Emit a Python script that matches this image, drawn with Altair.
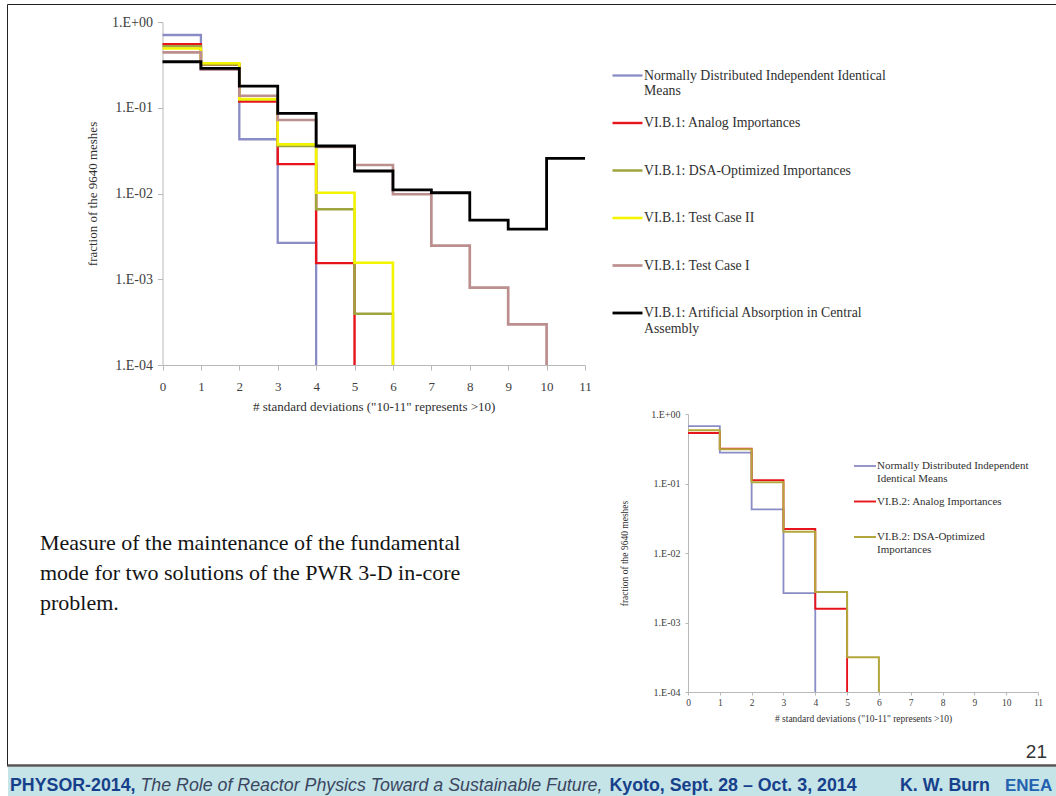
import altair as alt
import pandas as pd

W, H = 1056, 796
SERIF = "Liberation Serif"
SANS = "Liberation Sans"
FLOOR = 1e-4  # bottom of the log axis; bins with zero count drop to it

bin_ticks = list(range(12))
decade_ticks = [1e-4, 1e-3, 1e-2, 1e-1, 1.0]

# ---------------- main chart (VI.B.1) ----------------
main_names = [
    "Normally Distributed Independent Identical|Means",
    "VI.B.1: Analog Importances",
    "VI.B.1: DSA-Optimized Importances",
    "VI.B.1: Test Case II",
    "VI.B.1: Test Case I",
    "VI.B.1: Artificial Absorption in Central|Assembly",
]
main_colors = ["#8a8cc6", "#e8141c", "#9ea43e", "#f4f400", "#bc8e8e", "#000000"]
main_widths = [2.3, 2.8, 2.5, 2.8, 2.5, 3.2]

main_normal = [0.705, 0.28, 0.0429, 0.00265, 0]
main_analog = [0.55, 0.32, 0.118, 0.022, 0.00154, 0]
main_dsa = [0.52, 0.32, 0.125, 0.0358, 0.00653, 0.000397, 0]
main_tc2 = [0.49, 0.33, 0.126, 0.0374, 0.0102, 0.00156, 0]
main_tc1 = [0.443, 0.28, 0.138, 0.072, 0.035, 0.0215, 0.0098, 0.00247, 0.0008, 0.000297, 0]
main_absorb = [0.344, 0.288, 0.179, 0.086, 0.0358, 0.0183, 0.011, 0.0102, 0.0049, 0.00385, 0.0257]
main_values = [main_normal, main_analog, main_dsa, main_tc2, main_tc1, main_absorb]

# ---------------- small chart (VI.B.2) ----------------
small_names = [
    "Normally Distributed Independent|Identical Means",
    "VI.B.2: Analog Importances",
    "VI.B.2: DSA-Optimized|Importances",
]
small_colors = ["#8a8cc6", "#e8141c", "#b3a63c"]
small_widths = [1.8, 2.0, 1.8]

small_normal = [0.667, 0.279, 0.0425, 0.00265, 0]
small_analog = [0.534, 0.318, 0.112, 0.0222, 0.00158, 0]
small_dsa = [0.583, 0.31, 0.104, 0.0203, 0.00274, 0.000316, 0]
small_values = [small_normal, small_analog, small_dsa]

main_xtitle = '# standard deviations ("10-11" represents >10)'
ytitle = "fraction of the 9640 meshes"

para_lines = [
    "Measure of the maintenance  of the fundamental",
    "mode for two solutions of the PWR 3-D in-core",
    "problem.",
]
page_number = "21"
foot_1 = "PHYSOR-2014,"
foot_2 = "The Role of Reactor Physics Toward a Sustainable Future,"
foot_3 = "Kyoto, Sept. 28 \u2013 Oct. 3, 2014"
foot_4 = "K. W. Burn"
foot_logo = "ENEA"


def build(names, values):
    rows = []
    for name, vals in zip(names, values):
        for i, v in enumerate(vals):
            rows.append({"series": name, "bin": i, "frac": v if v > 0 else FLOOR})
        if vals[-1] > 0:
            rows.append({"series": name, "bin": len(vals), "frac": vals[-1]})
    return pd.DataFrame(rows)


main_df = build(main_names, main_values)
small_df = build(small_names, small_values)

ylab = ("'1.E' + (log(datum.value) / LN10 < -0.5 ? '-' : '+') + "
        "format(abs(round(log(datum.value) / LN10)), '02d')")
legend_lab = ("indexof(datum.label, '|') >= 0 ? split(datum.label, '|') : [datum.label, ' ']")


def step_chart(df, names, colors, widths, xr, yr, fs, yfs, tick, lpad_x, lpad_y, tpad_x, tpad_y,
               leg_x, leg_y, leg_fs, sym_len, row_pad, sw):
    return alt.Chart(df).mark_line(interpolate="step-after").encode(
        x=alt.X(
            "bin:Q",
            scale=alt.Scale(domain=[0, 11], range=xr, nice=False, zero=False),
            axis=alt.Axis(
                orient="bottom", offset=-(H - yr[0]), values=bin_ticks, format="d",
                title=main_xtitle, grid=False, labelFont=SERIF, labelFontSize=fs,
                labelColor="#404040", labelPadding=lpad_x, tickSize=tick,
                domainColor="#b8b8b8", tickColor="#b8b8b8", labelFlush=False,
                titleFont=SERIF, titleFontSize=fs, titleFontWeight="normal",
                titleColor="#303030", titlePadding=tpad_x,
            ),
        ),
        y=alt.Y(
            "frac:Q",
            scale=alt.Scale(type="log", domain=[FLOOR, 1], range=yr, nice=False),
            axis=alt.Axis(
                orient="left", offset=-xr[0], values=decade_ticks, labelExpr=ylab,
                title=ytitle, grid=False, labelFont=SERIF, labelFontSize=yfs,
                labelColor="#404040", labelPadding=lpad_y, tickSize=tick,
                domainColor="#b8b8b8", tickColor="#b8b8b8", labelFlush=False,
                titleFont=SERIF, titleFontSize=fs, titleFontWeight="normal",
                titleColor="#303030", titlePadding=tpad_y,
            ),
        ),
        color=alt.Color(
            "series:N",
            sort=names,
            scale=alt.Scale(domain=names, range=colors),
            legend=alt.Legend(
                orient="none", legendX=leg_x, legendY=leg_y, title=None,
                symbolType="stroke", symbolSize=sym_len * sym_len, symbolStrokeWidth=sw,
                labelFont=SERIF, labelFontSize=leg_fs, labelColor="#303030",
                labelLimit=400, labelOffset=0, rowPadding=row_pad, padding=0,
                labelExpr=legend_lab, labelBaseline="middle",
            ),
        ),
        strokeWidth=alt.StrokeWidth(
            "series:N", scale=alt.Scale(domain=names, range=widths), legend=None
        ),
    )


main_chart = step_chart(main_df, main_names, main_colors, main_widths,
                        [162.5, 585], [365, 22], 13, 14, 5, 10, 5, 7, 12,
                        611, 59, 13.8, 30, 7.5, 2.6)
small_chart = step_chart(small_df, small_names, small_colors, small_widths,
                         [688, 1038], [692, 414], 9.5, 10, 3, 2, 5, 7, 21,
                         853, 454, 11, 22, 5.5, 2.2)

one = pd.DataFrame({"k": [0]})

band = alt.Chart(one).mark_rect(color="#c4e4e8").encode(
    x=alt.value(8), x2=alt.value(W), y=alt.value(767), y2=alt.value(H)
)
divider = alt.Chart(one).mark_rule(color="#555555", strokeWidth=2.5).encode(
    x=alt.value(7), x2=alt.value(W), y=alt.value(765.5)
)
border_left = alt.Chart(one).mark_rule(color="#222222", strokeWidth=1).encode(
    x=alt.value(7.5), y=alt.value(4.5), y2=alt.value(765)
)
border_top = alt.Chart(one).mark_rule(color="#222222", strokeWidth=1).encode(
    x=alt.value(7.5), x2=alt.value(W), y=alt.value(4.5)
)

para = alt.Chart(one).mark_text(
    align="left", baseline="alphabetic", font=SERIF, fontSize=22, lineHeight=30, color="#141414"
).encode(x=alt.value(40), y=alt.value(550), text=alt.value(para_lines))

page = alt.Chart(one).mark_text(
    align="right", baseline="alphabetic", font=SANS, fontSize=19, color="#333333"
).encode(x=alt.value(1047), y=alt.value(758), text=alt.value(page_number))

FOOT_Y = 790.5
FOOT_FS = 17.8
NAVY = "#17408b"
f1 = alt.Chart(one).mark_text(align="left", baseline="alphabetic", font=SANS, fontSize=FOOT_FS,
                              fontWeight="bold", color=NAVY).encode(
    x=alt.value(10), y=alt.value(FOOT_Y), text=alt.value(foot_1))
f2 = alt.Chart(one).mark_text(align="left", baseline="alphabetic", font=SANS, fontSize=FOOT_FS,
                              fontStyle="italic", color="#3b4660").encode(
    x=alt.value(140.5), y=alt.value(FOOT_Y), text=alt.value(foot_2))
f3 = alt.Chart(one).mark_text(align="left", baseline="alphabetic", font=SANS, fontSize=FOOT_FS,
                              fontWeight="bold", color=NAVY).encode(
    x=alt.value(609.5), y=alt.value(FOOT_Y), text=alt.value(foot_3))
f4 = alt.Chart(one).mark_text(align="left", baseline="alphabetic", font=SANS, fontSize=FOOT_FS,
                              fontWeight="bold", color=NAVY).encode(
    x=alt.value(900), y=alt.value(FOOT_Y), text=alt.value(foot_4))
logo = alt.Chart(one).mark_text(align="left", baseline="alphabetic", font=SANS, fontSize=17,
                                fontWeight="bold", color="#2462b0").encode(
    x=alt.value(1005), y=alt.value(FOOT_Y), text=alt.value(foot_logo))

chart = alt.layer(
    band, divider, border_left, border_top,
    main_chart, small_chart,
    para, page, f1, f2, f3, f4, logo,
).resolve_scale(
    x="independent", y="independent", color="independent", strokeWidth="independent"
).properties(
    width=W, height=H, padding=0, autosize=alt.AutoSizeParams(type="none"),
    background="white",
).configure_view(stroke=None)

chart.save("out.html", embed_options={"renderer": "svg", "actions": False})
